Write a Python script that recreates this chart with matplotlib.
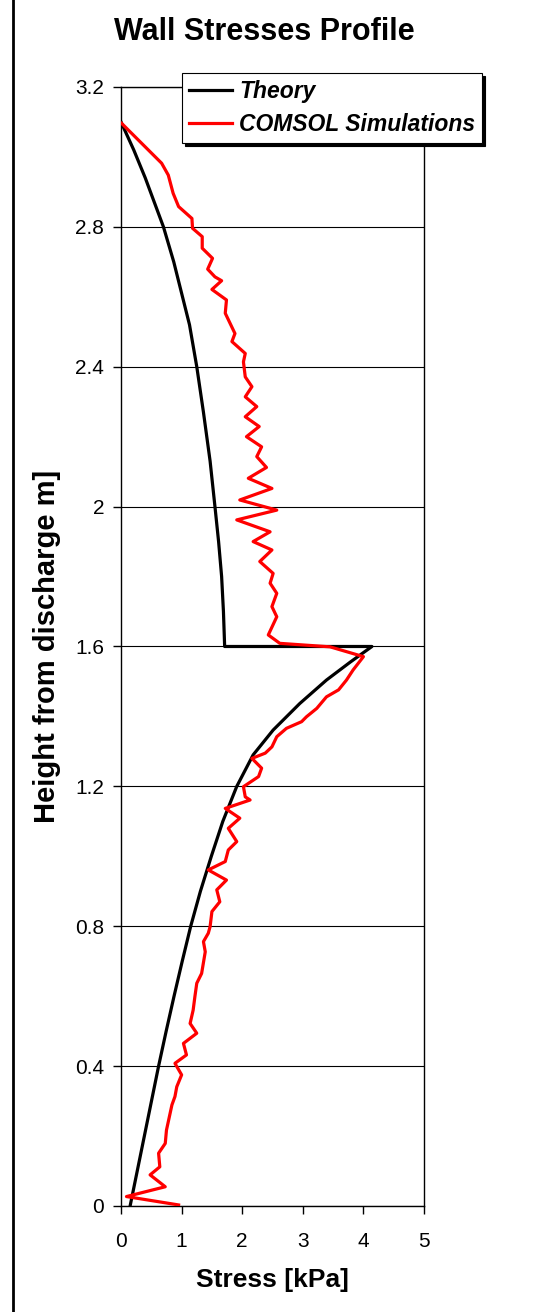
import matplotlib.pyplot as plt
from matplotlib.lines import Line2D

plt.rcParams['font.family'] = ['Liberation Sans', 'DejaVu Sans']

# Theory curve (stress kPa, height m)
theory_x = [0.0, 0.21, 0.40, 0.70, 0.87, 1.00, 1.13, 1.25, 1.36, 1.47, 1.55, 1.61, 1.66, 1.69, 1.71,
            4.14, 3.78, 3.39, 2.95, 2.51, 2.18, 1.91, 1.68, 1.49, 1.31, 1.15, 1.01,
            0.875, 0.745, 0.62, 0.385, 0.15]
theory_y = [3.10, 3.02, 2.94, 2.80, 2.70, 2.61, 2.52, 2.40, 2.27, 2.13, 2.00, 1.90, 1.80, 1.70, 1.60,
            1.60, 1.555, 1.504, 1.437, 1.361, 1.290, 1.20, 1.10, 1.00, 0.90, 0.80, 0.70,
            0.60, 0.50, 0.40, 0.20, 0.0]

# COMSOL simulation curve
sim_x = [0.01, 0.67, 0.78, 0.86, 0.95, 1.17, 1.18, 1.34, 1.34, 1.51, 1.43, 1.55, 1.66, 1.50,
         1.74, 1.72, 1.88, 1.83, 2.05, 2.02, 2.05, 2.16, 2.05, 2.24, 2.05, 2.28, 2.07, 2.32,
         2.24, 2.40, 2.10, 2.49, 1.96, 2.57, 1.91, 2.46, 2.18, 2.49, 2.29, 2.51, 2.46, 2.57,
         2.49, 2.57, 2.43, 2.62, 3.45, 4.00, 3.83, 3.72, 3.59, 3.39, 3.23, 3.06, 2.98, 2.73,
         2.57, 2.49, 2.38, 2.16, 2.32, 2.27, 2.02, 2.05, 2.13, 1.72, 1.96, 1.77, 1.91, 1.77,
         1.72, 1.44, 1.74, 1.58, 1.63, 1.50, 1.47, 1.44, 1.36, 1.39, 1.33, 1.25, 1.22, 1.19,
         1.14, 1.25, 1.03, 1.08, 0.89, 1.00, 0.92, 0.89, 0.84, 0.81, 0.75, 0.73, 0.62, 0.64,
         0.48, 0.73, 0.09, 0.95]
sim_y = [3.096, 2.982, 2.948, 2.896, 2.858, 2.824, 2.796, 2.772, 2.739, 2.710, 2.679, 2.657,
         2.646, 2.621, 2.591, 2.553, 2.495, 2.472, 2.438, 2.414, 2.371, 2.343, 2.314, 2.286,
         2.257, 2.229, 2.200, 2.171, 2.143, 2.112, 2.081, 2.052, 2.019, 1.990, 1.962, 1.928,
         1.900, 1.876, 1.843, 1.809, 1.781, 1.752, 1.714, 1.685, 1.633, 1.609, 1.599, 1.571,
         1.533, 1.504, 1.476, 1.456, 1.423, 1.399, 1.385, 1.366, 1.342, 1.313, 1.295, 1.280,
         1.252, 1.228, 1.199, 1.170, 1.161, 1.137, 1.109, 1.080, 1.042, 1.018, 0.985, 0.961,
         0.932, 0.904, 0.870, 0.842, 0.799, 0.780, 0.756, 0.727, 0.665, 0.637, 0.600, 0.560,
         0.522, 0.494, 0.465, 0.432, 0.408, 0.375, 0.341, 0.313, 0.289, 0.265, 0.217, 0.179,
         0.151, 0.112, 0.089, 0.055, 0.027, 0.003]

y_ticks = [0, 0.4, 0.8, 1.2, 1.6, 2.0, 2.4, 2.8, 3.2]
y_ticklabels = ['0', '0.4', '0.8', '1.2', '1.6', '2', '2.4', '2.8', '3.2']
x_ticks = [0, 1, 2, 3, 4, 5]

fig = plt.figure(figsize=(5.35, 13.12), dpi=100)
ax = fig.add_axes([0.2262, 0.0808, 0.5664, 0.8529])

ax.plot(theory_x, theory_y, color='black', lw=2.3, label='Theory', zorder=3)
ax.plot(sim_x, sim_y, color='#ff0000', lw=2.3, label='COMSOL Simulations', zorder=4)

ax.set_xlim(0, 5)
ax.set_ylim(0, 3.2)
ax.set_xticks(x_ticks)
ax.set_yticks(y_ticks)
ax.set_yticklabels(y_ticklabels)
ax.tick_params(direction='out', length=6, width=1, labelsize=15)
ax.tick_params(axis='y', pad=6)
ax.tick_params(axis='x', pad=13)
ax.yaxis.grid(True, color='black', lw=0.8)
ax.set_axisbelow(True)
for s in ax.spines.values():
    s.set_linewidth(1)
    s.set_color('black')

ax.set_xlabel('Stress [kPa]', fontsize=19, fontweight='bold', labelpad=12)
ax.set_ylabel('Height from discharge m]', fontsize=21, fontweight='bold', labelpad=10)
fig.text(0.494, 0.9755, 'Wall Stresses Profile', fontsize=22, fontweight='bold',
         ha='center', va='center')

leg = ax.legend(loc='upper left', bbox_to_anchor=(182 / 535, 1 - 73 / 1312),
                bbox_transform=fig.transFigure, borderaxespad=0, fancybox=False,
                shadow={'color': 'black', 'alpha': 1}, framealpha=1,
                prop={'weight': 'bold', 'style': 'italic', 'size': 16.5},
                handlelength=1.9, handletextpad=0.3, borderpad=0.3, labelspacing=0.45)
leg.get_frame().set_edgecolor('black')
leg.get_frame().set_linewidth(0.8)
leg.set_zorder(10)

fig.add_artist(Line2D([12.5 / 535, 12.5 / 535], [0, 1], color='black', lw=2,
                      transform=fig.transFigure))

fig.savefig('out.png', dpi=100)
